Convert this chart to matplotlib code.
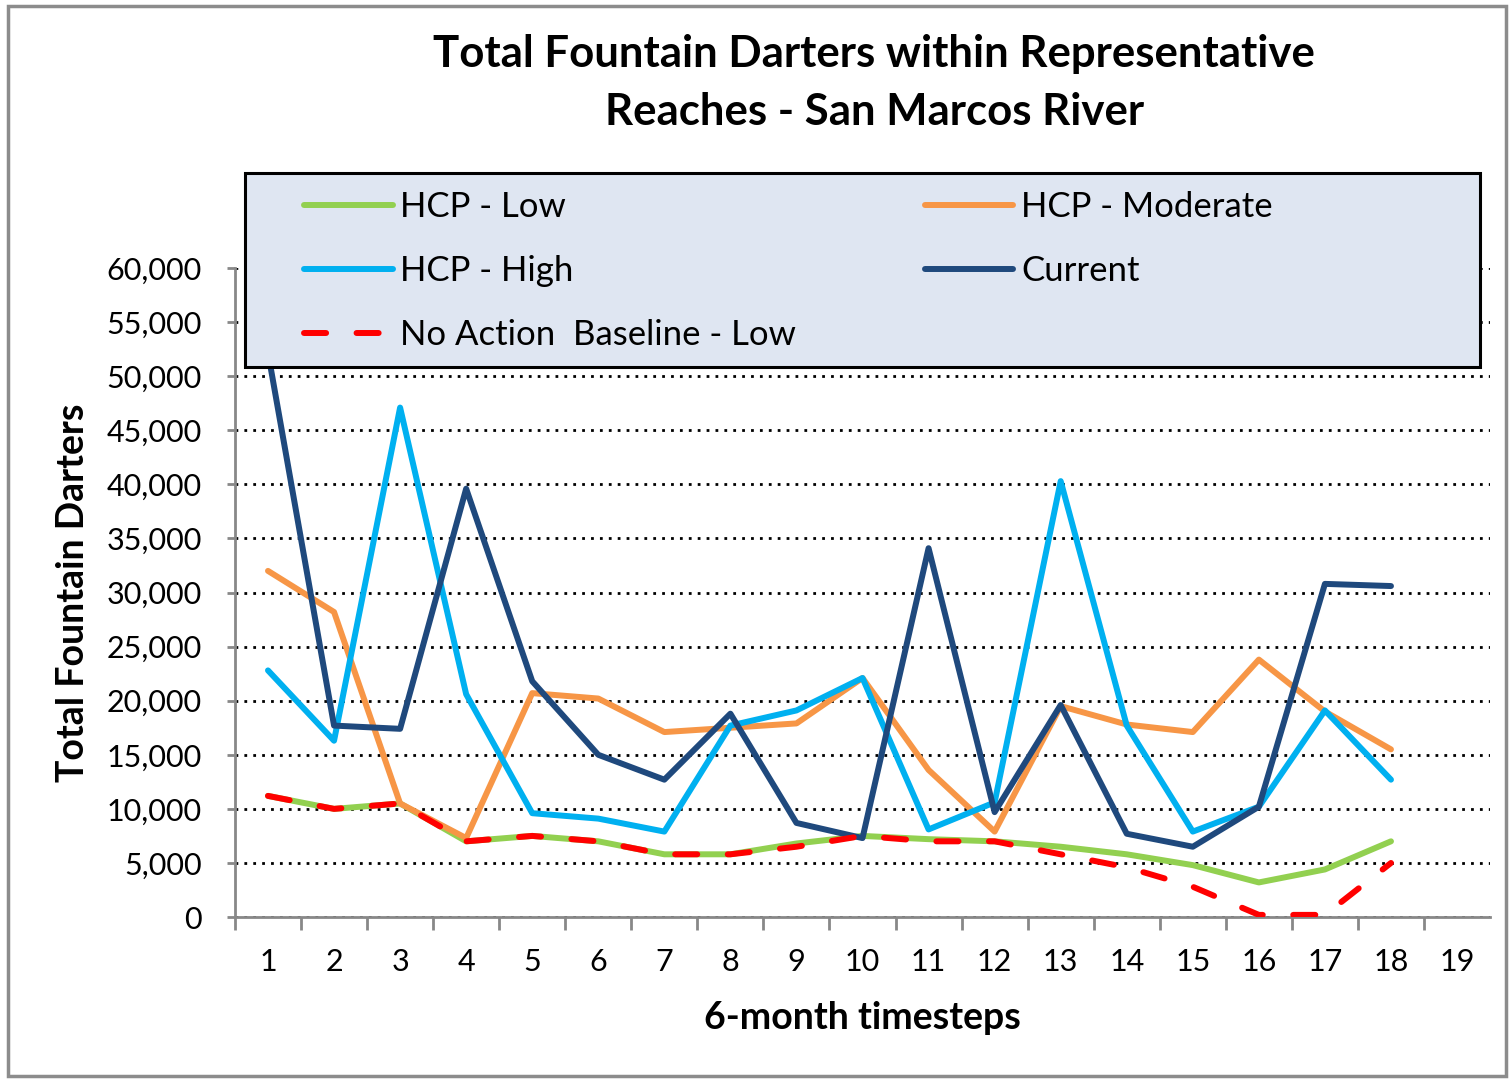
import matplotlib.pyplot as plt
from matplotlib.patches import Rectangle
from matplotlib.ticker import FuncFormatter, MultipleLocator

plt.rcParams['font.family'] = ['Lato', 'DejaVu Sans']

timesteps = list(range(1, 19))
hcp_low = [11200, 10000, 10500, 7000, 7500, 7000, 5800, 5800, 6800, 7500,
           7200, 7000, 6500, 5800, 4800, 3200, 4400, 7000]
hcp_moderate = [32000, 28200, 10500, 7300, 20700, 20200, 17100, 17500, 17900, 22100,
                13600, 7900, 19500, 17800, 17100, 23800, 19000, 15500]
hcp_high = [22800, 16300, 47100, 20600, 9600, 9100, 7900, 17700, 19100, 22100,
            8100, 10600, 40300, 17700, 7900, 10200, 19100, 12700]
current = [52200, 17700, 17400, 39600, 21800, 15000, 12700, 18800, 8700, 7300,
           34100, 9700, 19600, 7700, 6500, 10200, 30800, 30600]
no_action_low = [11200, 10000, 10500, 7000, 7500, 7000, 5800, 5800, 6500, 7500,
                 7000, 7000, 5800, 4600, 2800, 200, 200, 5000]
categories = list(range(1, 20))

fig = plt.figure(figsize=(15.10, 10.79), dpi=100)
ax = fig.add_axes([0.1556, 0.1501, 0.8312, 0.6015])

lw = 4.3
l_low, = ax.plot(timesteps, hcp_low, color='#92D050', lw=lw, solid_capstyle='round', zorder=3)
l_mod, = ax.plot(timesteps, hcp_moderate, color='#F79646', lw=lw, solid_capstyle='round', zorder=4)
l_high, = ax.plot(timesteps, hcp_high, color='#00B0F0', lw=lw, solid_capstyle='round', zorder=5)
l_cur, = ax.plot(timesteps, current, color='#1F497D', lw=lw, solid_capstyle='round', zorder=6)
l_na, = ax.plot(timesteps, no_action_low, color='#FF0000', lw=lw, dashes=(3.7, 5.1),
                dash_capstyle='round', zorder=7)

ax.set_xlim(0.5, 19.5)
ax.set_ylim(0, 60000)
ax.yaxis.set_major_locator(MultipleLocator(5000))
ax.yaxis.set_major_formatter(FuncFormatter(lambda v, p: f'{int(v):,}'))
ax.set_xticks(categories)
ax.set_xticklabels([str(c) for c in categories])
ax.set_xticks([c + 0.5 for c in range(0, 19)], minor=True)
ax.tick_params(axis='x', which='major', length=0, pad=22, labelsize=22)
ax.tick_params(axis='x', which='minor', length=9, width=2, color='#888888', direction='out')
ax.tick_params(axis='y', length=6, width=2, color='#888888', labelsize=22, pad=18)

ax.grid(axis='y', color='black', linestyle=(0, (1, 2.2)), lw=2, zorder=1)
for s in ['top', 'right']:
    ax.spines[s].set_visible(False)
for s in ['left', 'bottom']:
    ax.spines[s].set_color('#888888')
    ax.spines[s].set_linewidth(2)

ax.set_xlabel('6-month timesteps', fontsize=27, fontweight='bold', labelpad=18)
ax.set_ylabel('Total Fountain Darters', fontsize=27, fontweight='bold', labelpad=12)

fig.text(0.579, 0.950, 'Total Fountain Darters within Representative',
         ha='center', va='center', fontsize=31.5, fontweight='bold')
fig.text(0.579, 0.896, 'Reaches - San Marcos River',
         ha='center', va='center', fontsize=31.5, fontweight='bold')

# legend box drawn over the plot area
fig.patches.append(Rectangle((0.1623, 0.6599), 0.8179, 0.1798, transform=fig.transFigure,
                             facecolor='#DFE6F2', edgecolor='black', lw=2.2, zorder=10))

leg = fig.legend([l_low, l_high, l_na, l_mod, l_cur],
                 ['HCP - Low', 'HCP - High', 'No Action  Baseline - Low', 'HCP - Moderate', 'Current'],
                 loc='upper left', bbox_to_anchor=(0.2015, 0.823),
                 ncol=2, fontsize=25, frameon=False,
                 handlelength=2.55, handletextpad=0.22, labelspacing=0.92,
                 columnspacing=3.7, borderpad=0.0, borderaxespad=0.0)
leg.set_zorder(11)

# outer chart frame
fig.patches.append(Rectangle((0.0053, 0.003), 0.992, 0.991, transform=fig.transFigure,
                             fill=False, edgecolor='#8C8C8C', lw=2.5))

fig.savefig('out.png', dpi=100)
